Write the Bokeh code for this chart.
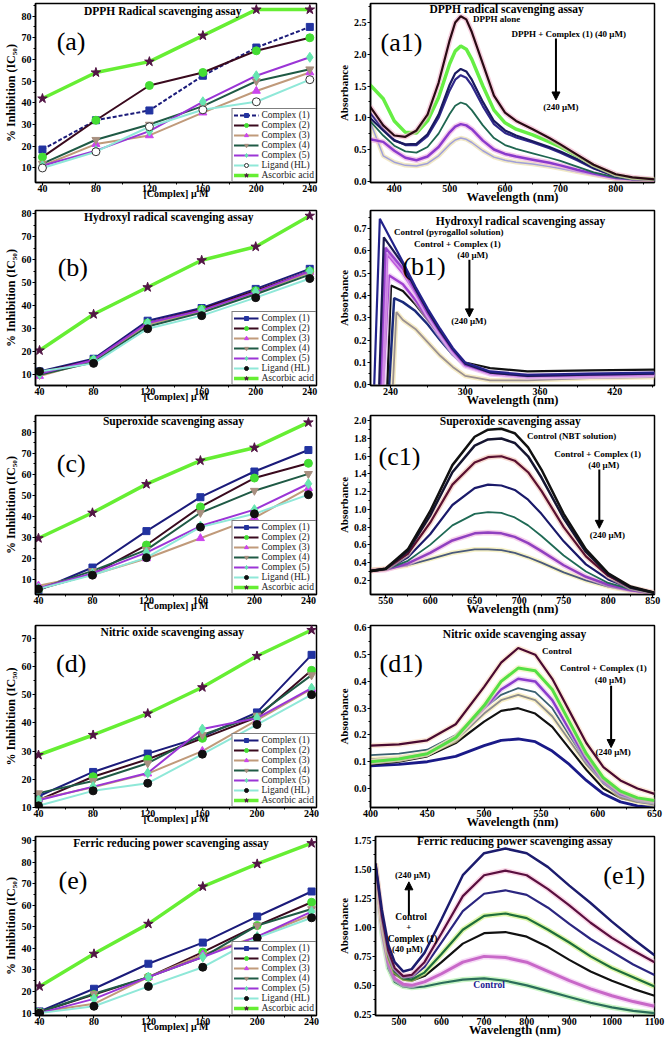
from bokeh.plotting import figure
from bokeh.layouts import column, row
from bokeh.models import (FixedTicker, PrintfTickFormatter, Label, Arrow, NormalHead,
                          Legend, LegendItem, Range1d)
from bokeh.embed import file_html
from bokeh.resources import INLINE

SERIF = "Liberation Serif"

# ---------------- Left panels: % inhibition vs concentration ----------------
conc_uM = [40, 80, 120, 160, 200, 240]
conc_minor = [60, 100, 140, 180, 220]
series_labels = ["Complex (1)", "Complex (2)", "Complex (3)", "Complex (4)",
                 "Complex (5)", "Ligand (HL)", "Ascorbic acid"]

dpph_c1 = [18.5, 32, 36.5, 52.5, 65.5, 75]
dpph_c2 = [15, 32, 48, 54, 64, 70]
dpph_c3 = [11, 21, 25, 35.5, 45.5, 54]
dpph_c4 = [12, 23, 30, 38.5, 50, 55.5]
dpph_c5 = [11, 18, 27, 40.5, 52.5, 61]
dpph_hl = [10, 17.5, 29, 36.8, 40.5, 50.7]
dpph_aa = [42, 54, 59, 71, 83, 83]

oh_c1 = [11.5, 17, 33.5, 39, 47.3, 56]
oh_c2 = [11, 16.5, 32.5, 38.5, 46.5, 55]
oh_c3 = [9.5, 16, 32, 37.5, 45.5, 54.5]
oh_c4 = [10, 15.5, 31, 37, 45, 53.5]
oh_c5 = [10.5, 16.5, 32.5, 38, 46, 55]
oh_hl = [11.5, 15, 30, 35.7, 43.5, 51.8]
oh_aa = [20.6, 36.3, 48, 59.7, 65.6, 79]

so_c1 = [5, 15.8, 33.1, 49.2, 61.4, 71.6]
so_c2 = [5.5, 12.7, 26.5, 44.6, 58.3, 65.3]
so_c3 = [7.2, 12.4, 20.1, 29.7, 39.4, 53.5]
so_c4 = [5.6, 14.2, 24.2, 41.8, 52.3, 60.3]
so_c5 = [6, 13, 22.9, 35.5, 43.3, 55.6]
so_hl = [5.6, 12.2, 20.5, 35, 41.3, 50.4]
so_aa = [29.7, 41.8, 55.4, 66.6, 72.7, 84.7]

no_c1 = [14, 22.6, 29.1, 35.1, 43.7, 64.1]
no_c2 = [12.6, 20.9, 27.1, 34.5, 42, 58.6]
no_c3 = [12.9, 17.2, 22, 30, 41, 52]
no_c4 = [15.1, 19.4, 25.7, 35.7, 42.6, 56.9]
no_c5 = [12.6, 17.4, 22.2, 37.8, 41.7, 52.3]
no_hl = [10.6, 15.9, 18.6, 28.9, 39.4, 50]
no_aa = [28.6, 35.7, 43.3, 52.6, 63.7, 72.9]

fr_c1 = [10.8, 21.3, 32.9, 42.7, 54.8, 66.4]
fr_c2 = [10.5, 18.6, 26.7, 38.3, 50.6, 61.4]
fr_c3 = [10.5, 14.3, 26.7, 37.2, 45.5, 55.6]
fr_c4 = [10.5, 19, 26.7, 36, 50.6, 58.3]
fr_c5 = [10, 16.6, 26.7, 36, 45.5, 57.1]
fr_hl = [10, 13.2, 22.4, 31.3, 44.9, 54.2]
fr_aa = [22.4, 37.5, 51.4, 68.7, 79.2, 88.8]

# ---------------- Right panels: UV-vis spectra ----------------
dpph_nm = [356, 380, 400, 420, 440, 460, 480, 500, 510, 520, 530, 540, 560, 580,
           600, 620, 650, 680, 700, 730, 760, 800, 830, 870]
dpph_alone = [1.18, 0.88, 0.72, 0.70, 0.80, 1.05, 1.55, 2.22, 2.50, 2.60, 2.55, 2.35, 1.85, 1.35,
              1.08, 0.95, 0.82, 0.68, 0.58, 0.42, 0.26, 0.11, 0.06, 0.03]
dpph_s1 = [1.52, 1.30, 0.95, 0.77, 0.76, 0.95, 1.32, 1.85, 2.05, 2.13, 2.08, 1.92, 1.50, 1.12,
           0.92, 0.82, 0.73, 0.62, 0.54, 0.40, 0.25, 0.10, 0.05, 0.03]
dpph_s2 = [1.00, 0.80, 0.64, 0.58, 0.59, 0.74, 1.05, 1.52, 1.70, 1.77, 1.73, 1.60, 1.25, 0.95,
           0.80, 0.72, 0.63, 0.54, 0.47, 0.35, 0.21, 0.08, 0.04, 0.02]
dpph_s3 = [1.08, 0.82, 0.65, 0.57, 0.57, 0.71, 1.00, 1.43, 1.60, 1.67, 1.63, 1.51, 1.18, 0.90,
           0.76, 0.69, 0.61, 0.52, 0.45, 0.33, 0.20, 0.08, 0.04, 0.02]
dpph_s4 = [0.95, 0.72, 0.56, 0.47, 0.45, 0.54, 0.75, 1.06, 1.19, 1.24, 1.21, 1.12, 0.88, 0.68,
           0.57, 0.51, 0.44, 0.37, 0.32, 0.23, 0.14, 0.06, 0.03, 0.02]
dpph_s5 = [0.66, 0.62, 0.48, 0.37, 0.33, 0.39, 0.54, 0.77, 0.86, 0.90, 0.88, 0.82, 0.64, 0.50,
           0.43, 0.39, 0.34, 0.29, 0.25, 0.18, 0.12, 0.05, 0.03, 0.02]
dpph_s6 = [0.95, 0.40, 0.30, 0.25, 0.24, 0.28, 0.40, 0.58, 0.65, 0.68, 0.66, 0.61, 0.48, 0.38,
           0.33, 0.30, 0.27, 0.23, 0.20, 0.15, 0.10, 0.04, 0.02, 0.01]

oh_tail_nm = [250, 260, 270, 280, 290, 300, 320, 350, 400, 452]
oh_start_nm = [227, 231, 232, 233, 234, 237.5, 239, 242]
oh_peak_nm = [231.5, 234.7, 236, 237.4, 238.7, 240.5, 243, 244.8]
oh_peak_abs = [0.743, 0.66, 0.613, 0.585, 0.49, 0.444, 0.388, 0.325]
oh_tail_1 = [0.55, 0.44, 0.34, 0.25, 0.165, 0.10, 0.06, 0.045, 0.05, 0.055]
oh_tail_2 = [0.54, 0.43, 0.33, 0.24, 0.16, 0.095, 0.055, 0.04, 0.045, 0.05]
oh_tail_3 = [0.52, 0.42, 0.32, 0.235, 0.155, 0.09, 0.055, 0.04, 0.045, 0.05]
oh_tail_4 = [0.50, 0.41, 0.315, 0.23, 0.15, 0.09, 0.05, 0.04, 0.04, 0.045]
oh_tail_5 = [0.45, 0.38, 0.30, 0.22, 0.145, 0.085, 0.05, 0.035, 0.04, 0.045]
oh_tail_6 = [0.42, 0.36, 0.29, 0.22, 0.15, 0.10, 0.075, 0.06, 0.065, 0.068]
oh_tail_7 = [0.37, 0.33, 0.27, 0.20, 0.135, 0.085, 0.05, 0.035, 0.04, 0.045]
oh_tail_8 = [0.29, 0.25, 0.19, 0.13, 0.08, 0.04, 0.02, 0.02, 0.03, 0.035]

so_nm = [530, 550, 575, 600, 625, 650, 665, 680, 695, 710, 725, 750, 775, 800, 825, 852]
so_s1 = [0.30, 0.33, 0.55, 0.98, 1.50, 1.82, 1.90, 1.91, 1.86, 1.70, 1.45, 0.95, 0.55, 0.28, 0.13, 0.06]
so_s2 = [0.30, 0.33, 0.53, 0.93, 1.42, 1.72, 1.79, 1.80, 1.75, 1.60, 1.36, 0.90, 0.52, 0.27, 0.12, 0.06]
so_s3 = [0.30, 0.33, 0.50, 0.85, 1.28, 1.53, 1.59, 1.60, 1.55, 1.42, 1.21, 0.80, 0.47, 0.25, 0.12, 0.06]
so_s4 = [0.30, 0.32, 0.46, 0.72, 1.05, 1.24, 1.28, 1.27, 1.22, 1.11, 0.95, 0.64, 0.38, 0.21, 0.11, 0.06]
so_s5 = [0.30, 0.32, 0.42, 0.60, 0.82, 0.95, 0.97, 0.96, 0.91, 0.82, 0.70, 0.48, 0.30, 0.17, 0.10, 0.05]
so_s6 = [0.31, 0.32, 0.39, 0.51, 0.65, 0.73, 0.74, 0.73, 0.69, 0.62, 0.53, 0.37, 0.24, 0.15, 0.09, 0.05]
so_s7 = [0.32, 0.33, 0.37, 0.44, 0.51, 0.55, 0.55, 0.54, 0.51, 0.46, 0.40, 0.29, 0.20, 0.13, 0.08, 0.05]

no_nm = [400, 425, 450, 475, 500, 515, 530, 545, 560, 575, 590, 605, 620, 635, 650]
no_s1 = [0.16, 0.165, 0.18, 0.24, 0.38, 0.47, 0.525, 0.50, 0.41, 0.29, 0.17, 0.08, 0.03, 0.0, -0.02]
no_s2 = [0.10, 0.11, 0.13, 0.19, 0.31, 0.40, 0.45, 0.44, 0.37, 0.25, 0.13, 0.04, -0.01, -0.035, -0.045]
no_s3 = [0.10, 0.11, 0.13, 0.19, 0.30, 0.37, 0.41, 0.40, 0.33, 0.22, 0.11, 0.03, -0.02, -0.04, -0.05]
no_s4 = [0.125, 0.13, 0.145, 0.20, 0.30, 0.35, 0.375, 0.36, 0.30, 0.20, 0.10, 0.02, -0.025, -0.045, -0.055]
no_s5 = [0.11, 0.115, 0.13, 0.18, 0.28, 0.33, 0.35, 0.33, 0.27, 0.18, 0.09, 0.02, -0.03, -0.05, -0.06]
no_s6 = [0.09, 0.10, 0.12, 0.17, 0.25, 0.29, 0.30, 0.28, 0.23, 0.15, 0.07, 0.0, -0.035, -0.05, -0.055]
no_s7 = [0.085, 0.09, 0.10, 0.12, 0.16, 0.18, 0.185, 0.175, 0.14, 0.09, 0.03, -0.02, -0.05, -0.065, -0.07]

fe_nm = [445, 460, 475, 490, 510, 530, 560, 600, 650, 700, 750, 800, 850, 900, 950, 1000, 1050, 1100]
fe_s1 = [1.55, 1.15, 0.85, 0.70, 0.62, 0.64, 0.78, 1.07, 1.45, 1.64, 1.68, 1.64, 1.52, 1.36, 1.21, 1.05, 0.90, 0.76]
fe_s2 = [1.55, 1.10, 0.80, 0.65, 0.58, 0.59, 0.70, 0.95, 1.27, 1.45, 1.49, 1.45, 1.33, 1.19, 1.04, 0.91, 0.80, 0.70]
fe_s3 = [1.55, 1.08, 0.78, 0.63, 0.57, 0.57, 0.66, 0.87, 1.14, 1.29, 1.32, 1.28, 1.17, 1.03, 0.90, 0.79, 0.68, 0.59]
fe_s4 = [1.55, 1.06, 0.76, 0.62, 0.56, 0.55, 0.61, 0.77, 0.98, 1.10, 1.12, 1.08, 0.98, 0.87, 0.75, 0.65, 0.57, 0.49]
fe_s5 = [1.55, 1.05, 0.74, 0.60, 0.55, 0.54, 0.58, 0.70, 0.86, 0.95, 0.96, 0.92, 0.83, 0.72, 0.62, 0.54, 0.47, 0.41]
fe_s6 = [1.50, 1.00, 0.70, 0.56, 0.51, 0.50, 0.53, 0.60, 0.70, 0.75, 0.74, 0.70, 0.62, 0.54, 0.47, 0.41, 0.36, 0.32]
fe_s7 = [1.50, 0.95, 0.65, 0.53, 0.49, 0.48, 0.49, 0.52, 0.55, 0.56, 0.54, 0.50, 0.45, 0.40, 0.35, 0.31, 0.28, 0.26]

# ---------------- styles ----------------
series_style = [
    dict(line="#1b1b7a", marker="square", fill="#2233a0", size=7, lw=2),
    dict(line="#3a0a1e", marker="circle", fill="#44dd33", size=8, lw=2),
    dict(line="#c09a7a", marker="triangle", fill="#cc44ee", size=8, lw=2),
    dict(line="#1f5a45", marker="inverted_triangle", fill="#a89080", size=8, lw=2),
    dict(line="#9b35d6", marker="diamond", fill="#66e6b0", size=10, lw=2),
    dict(line="#8fe8d8", marker="circle", fill="#101010", size=8, lw=2),
    dict(line="#66ee33", marker="star", fill="#521545", size=10, lw=3.5),
]


def style_axes(p, xlabel, ylabel, xlab_size, ylab_size, xlab_standoff):
    p.xaxis.axis_label = xlabel
    p.yaxis.axis_label = ylabel
    for ax in (p.xaxis[0], p.yaxis[0]):
        ax.axis_line_color = "black"
        ax.axis_line_width = 1.5
        ax.major_tick_line_color = "black"
        ax.major_tick_line_width = 1.2
        ax.minor_tick_line_color = "black"
        ax.major_tick_in = 0
        ax.major_tick_out = 3
        ax.minor_tick_in = 0
        ax.minor_tick_out = 2
        ax.major_label_text_font = SERIF
        ax.major_label_text_font_style = "bold"
        ax.major_label_text_font_size = "10px"
        ax.major_label_text_color = "black"
        ax.axis_label_text_font = SERIF
        ax.axis_label_text_font_style = "bold"
        ax.axis_label_text_color = "black"
    p.xaxis.major_label_standoff = -1
    p.xaxis.axis_label_standoff = xlab_standoff
    p.yaxis.major_label_standoff = 1
    p.yaxis.axis_label_standoff = 1
    p.xaxis.axis_label_text_font_size = xlab_size
    p.yaxis.axis_label_text_font_size = ylab_size
    p.xgrid.visible = False
    p.ygrid.visible = False
    p.outline_line_color = "black"
    p.outline_line_width = 1.5
    p.background_fill_color = "white"
    p.border_fill_color = "white"


def add_text(p, x, y, text, size="9px", bold=True, color="black", align="center"):
    p.add_layout(Label(x=x, y=y, text=text, text_font=SERIF, text_font_size=size,
                       text_font_style="bold" if bold else "normal", text_color=color,
                       text_align=align, text_baseline="middle"))


def left_panel(values, title, title_xy, letter, letter_xy, xr, yr, yticks, h, top, bottom,
               ligand_open=False, c1_dash=False):
    p = figure(width=334, height=h, x_range=Range1d(*xr), y_range=Range1d(*yr),
               output_backend="svg", toolbar_location=None, tools="",
               min_border_left=31, min_border_right=18, min_border_top=top, min_border_bottom=bottom)
    style_axes(p, "[Complex] \u03bc M", "% Inhibition (IC\u2085\u2080)", "10px", "12px", -7)
    p.xaxis.ticker = FixedTicker(ticks=conc_uM, minor_ticks=conc_minor)
    yminor = [t + 5 for t in yticks]
    p.yaxis.ticker = FixedTicker(ticks=yticks, minor_ticks=yminor)
    items = []
    for i, (lab, vals) in enumerate(zip(series_labels, values)):
        st = series_style[i]
        dash = "4 2" if (c1_dash and i == 0) else "solid"
        lr = p.line(conc_uM, vals, line_color=st["line"], line_width=st["lw"], line_dash=dash)
        fill = st["fill"]
        if ligand_open and i == 5:
            fill = "white"
        sr = p.scatter(conc_uM, vals, marker=st["marker"], size=st["size"], fill_color=fill,
                       line_color="#333333" if (ligand_open and i == 5) else fill, line_width=1)
        items.append(LegendItem(label=lab, renderers=[lr, sr]))
    leg = Legend(items=items, location="bottom_right", label_text_font=SERIF,
                 label_text_font_size="9.5px", label_text_color="#222222",
                 glyph_width=25, glyph_height=10, label_height=10, spacing=0,
                 padding=1, margin=0, label_standoff=3,
                 border_line_color="black", border_line_width=1,
                 background_fill_color="white", background_fill_alpha=1)
    p.add_layout(leg)
    add_text(p, title_xy[0], title_xy[1], title, size="11.5px")
    add_text(p, letter_xy[0], letter_xy[1], letter, size="26px", bold=False)
    return p


def right_panel(curves, xr, yr, xticks, xminor, yticks, yminor, yfmt, h, top, bottom,
                texts, arrow, letter, letter_xy, title, title_xy):
    p = figure(width=334, height=h, x_range=Range1d(*xr), y_range=Range1d(*yr),
               output_backend="svg", toolbar_location=None, tools="",
               min_border_left=28, min_border_right=14, min_border_top=top, min_border_bottom=bottom)
    style_axes(p, "Wavelength (nm)", "Absorbance", "12.5px", "11px", -5)
    p.xaxis.ticker = FixedTicker(ticks=xticks, minor_ticks=xminor)
    p.yaxis.ticker = FixedTicker(ticks=yticks, minor_ticks=yminor)
    p.yaxis.formatter = PrintfTickFormatter(format=yfmt)
    for xs, ys, color, lw, halo in curves:
        if halo:
            p.line(xs, ys, line_color=halo, line_width=lw + 3, line_alpha=0.6)
        p.line(xs, ys, line_color=color, line_width=lw)
    for (tx, ty, t, sz, col) in texts:
        add_text(p, tx, ty, t, size=sz, color=col)
    if arrow:
        x0, y0, x1, y1 = arrow
        p.add_layout(Arrow(end=NormalHead(size=8, fill_color="black", line_color="black"),
                           x_start=x0, y_start=y0, x_end=x1, y_end=y1,
                           line_width=2, line_color="black"))
    add_text(p, title_xy[0], title_xy[1], title, size="11.5px")
    add_text(p, letter_xy[0], letter_xy[1], letter, size="26px", bold=False)
    return p


# ---------------- build panels ----------------
pa = left_panel([dpph_c1, dpph_c2, dpph_c3, dpph_c4, dpph_c5, dpph_hl, dpph_aa],
                "DPPH Radical scavenging assay", (130, 82.5), "(a)", (61.4, 68.4),
                (34.8, 245), (3.3, 85.8), [10, 20, 30, 40, 50, 60, 70, 80], 209, 3, 21,
                ligand_open=True, c1_dash=True)
pb = left_panel([oh_c1, oh_c2, oh_c3, oh_c4, oh_c5, oh_hl, oh_aa],
                "Hydroxyl radical scavenging assay", (135.6, 78.5), "(b)", (64.6, 56.4),
                (37, 245), (5.4, 81.3), [10, 20, 30, 40, 50, 60, 70, 80], 200, 1, 21)
pc = left_panel([so_c1, so_c2, so_c3, so_c4, so_c5, so_hl, so_aa],
                "Superoxide scavenging assay", (140, 85.5), "(c)", (64.3, 65.4),
                (37.8, 246), (3, 88), [10, 20, 30, 40, 50, 60, 70, 80], 209, 6, 21)
pd = left_panel([no_c1, no_c2, no_c3, no_c4, no_c5, no_hl, no_aa],
                "Nitric oxide scavenging assay", (138, 72.3), "(d)", (64, 61.1),
                (37.8, 243.6), (10, 74.5), [10, 20, 30, 40, 50, 60, 70], 215, 6, 21)
pe = left_panel([fr_c1, fr_c2, fr_c3, fr_c4, fr_c5, fr_hl, fr_aa],
                "Ferric reducing power scavenging assay", (136.7, 89), "(e)", (64.5, 71.5),
                (37, 243.6), (8.9, 91.9), [10, 20, 30, 40, 50, 60, 70, 80, 90], 206, 3, 24)

pa1 = right_panel(
    [(dpph_nm, dpph_s6, "#a0a0d8", 1.5, "#e8d8a0"),
     (dpph_nm, dpph_s5, "#8a3acc", 2.5, "#f0a8e0"),
     (dpph_nm, dpph_s4, "#1f6650", 1.8, None),
     (dpph_nm, dpph_s3, "#30288a", 2.2, None),
     (dpph_nm, dpph_s2, "#1a1a60", 2.2, None),
     (dpph_nm, dpph_s1, "#66ee44", 3.5, None),
     (dpph_nm, dpph_alone, "#2a0a14", 2.2, "#f0b0c8")],
    (357, 870), (-0.02, 2.8), [400, 500, 600, 700, 800], [450, 550, 650, 750, 850],
    [0.0, 0.5, 1.0, 1.5, 2.0, 2.5], [0.25, 0.75, 1.25, 1.75, 2.25, 2.75], "%.1f", 209, 3, 27,
    [(585, 2.55, "DPPH alone", "9px", "black"),
     (715, 2.32, "DPPH + Complex (1) (40 \u03bcM)", "9px", "black"),
     (701, 1.17, "(240 \u03bcM)", "9px", "black")],
    (692, 2.25, 692, 1.28), "(a1)", (413, 2.19),
    "DPPH radical scavenging assay", (603, 2.72))

oh_curves = []
oh_colors = [("#22228a", 2.2, None), ("#1a1a50", 2.2, None), ("#9944cc", 2.5, "#e0b0f0"),
             ("#bb55dd", 2.5, "#f0c0f0"), ("#a040d0", 2.5, "#e8b8f0"), ("#111111", 2.2, None),
             ("#1a2a7a", 2.5, None), ("#9a9090", 1.8, "#f0e0a0")]
oh_tails = [oh_tail_1, oh_tail_2, oh_tail_3, oh_tail_4, oh_tail_5, oh_tail_6, oh_tail_7, oh_tail_8]
for k in range(8):
    xs = [oh_start_nm[k], oh_peak_nm[k]] + oh_tail_nm
    ys = [0.0, oh_peak_abs[k]] + oh_tails[k]
    c, lw, halo = oh_colors[k]
    oh_curves.append((xs, ys, c, lw, halo))
oh_curves = oh_curves[::-1]

pb1 = right_panel(
    oh_curves, (224, 452), (-0.003, 0.78), [240, 300, 360, 420], [270, 330, 390, 450],
    [0.0, 0.1, 0.2, 0.3, 0.4, 0.5, 0.6, 0.7], [0.05, 0.15, 0.25, 0.35, 0.45, 0.55, 0.65, 0.75],
    "%.1f", 200, 1, 21,
    [(286.8, 0.684, "Control (pyrogallol solution)", "9px", "black"),
     (293.7, 0.632, "Control + Complex (1)", "9px", "black"),
     (306, 0.582, "(40 \u03bcM)", "9px", "black"),
     (303, 0.287, "(240 \u03bcM)", "9px", "black")],
    (303.4, 0.56, 303.4, 0.304), "(b1)", (267, 0.53),
    "Hydroxyl radical scavenging assay", (344.4, 0.733))

pc1 = right_panel(
    [(so_nm, so_s7, "#4a5a7a", 1.8, "#f0e8a0"),
     (so_nm, so_s6, "#9040c0", 2.5, "#f0b0e0"),
     (so_nm, so_s5, "#1f6a55", 1.8, None),
     (so_nm, so_s4, "#1a1a6a", 2.2, None),
     (so_nm, so_s3, "#5a1030", 2.2, "#f0c0b0"),
     (so_nm, so_s2, "#151530", 2.5, None),
     (so_nm, so_s1, "#111111", 2.5, None)],
    (533, 852), (0.04, 2.06), [550, 600, 650, 700, 750, 800, 850], [575, 625, 675, 725, 775, 825],
    [0.2, 0.4, 0.6, 0.8, 1.0, 1.2, 1.4, 1.6, 1.8, 2.0], [0.3, 0.5, 0.7, 0.9, 1.1, 1.3, 1.5, 1.7, 1.9],
    "%.1f", 209, 6, 21,
    [(759, 1.83, "Control (NBT solution)", "9px", "black"),
     (788, 1.625, "Control + Complex (1)", "9px", "black"),
     (795, 1.50, "(40 \u03bcM)", "9px", "black"),
     (799, 0.706, "(240 \u03bcM)", "9px", "black")],
    (790, 1.45, 790, 0.787), "(c1)", (565.6, 1.6),
    "Superoxide scavenging assay", (690, 2.0))

pd1 = right_panel(
    [(no_nm, no_s7, "#1a1a88", 2.8, None),
     (no_nm, no_s6, "#111111", 2.2, None),
     (no_nm, no_s5, "#8c8c8c", 1.8, "#f5e6a0"),
     (no_nm, no_s4, "#3a6070", 1.8, None),
     (no_nm, no_s3, "#8a3ccc", 2.5, "#e8c0f0"),
     (no_nm, no_s2, "#55e044", 3.0, "#f0f0b0"),
     (no_nm, no_s1, "#4a0a30", 2.2, "#f8d8c0")],
    (400, 650), (-0.071, 0.609), [400, 450, 500, 550, 600, 650], [425, 475, 525, 575, 625],
    [0.0, 0.1, 0.2, 0.3, 0.4, 0.5, 0.6], [0.05, 0.15, 0.25, 0.35, 0.45, 0.55, -0.05],
    "%.1f", 215, 7, 26,
    [(564, 0.515, "Control", "9px", "black"),
     (605, 0.45, "Control + Complex (1)", "9px", "black"),
     (612, 0.405, "(40  \u03bcM)", "9px", "black"),
     (614.6, 0.137, "(240  \u03bcM)", "9px", "black")],
    (611.8, 0.384, 611.8, 0.153), "(d1)", (427, 0.468),
    "Nitric oxide scavenging assay", (526.8, 0.577))

pe1 = right_panel(
    [(fe_nm, fe_s7, "#2b6e5a", 2.2, "#a8f0a0"),
     (fe_nm, fe_s6, "#c868c8", 3.0, "#f0c0f0"),
     (fe_nm, fe_s5, "#111111", 2.2, None),
     (fe_nm, fe_s4, "#1e6e3a", 2.2, "#c8f070"),
     (fe_nm, fe_s3, "#2b2680", 2.2, None),
     (fe_nm, fe_s2, "#5a0f3f", 2.2, "#f8c0d8"),
     (fe_nm, fe_s1, "#1c1c6e", 2.5, None)],
    (445, 1100), (0.24, 1.784), [500, 600, 700, 800, 900, 1000, 1100],
    [550, 650, 750, 850, 950, 1050],
    [0.25, 0.5, 0.75, 1.0, 1.25, 1.5, 1.75], [0.375, 0.625, 0.875, 1.125, 1.375, 1.625],
    "%.2f", 206, 1, 24,
    [(532, 1.453, "(240 \u03bcM)", "9px", "black"),
     (528.6, 1.09, "Control", "9.5px", "black"),
     (523, 1.0, "+", "9px", "black"),
     (532, 0.90, "Complex (1)", "9.5px", "black"),
     (520, 0.81, "(40 \u03bcM)", "9px", "black"),
     (711.7, 0.50, "Control", "9.5px", "#1a1a90")],
    (523.4, 1.105, 523.4, 1.393), "(e1)", (1029, 1.45),
    "Ferric reducing power scavenging assay", (772.5, 1.745))

layout = column(row(pa, pa1), row(pb, pb1), row(pc, pc1), row(pd, pd1), row(pe, pe1))

open("out.html", "w").write(file_html(layout, INLINE))
